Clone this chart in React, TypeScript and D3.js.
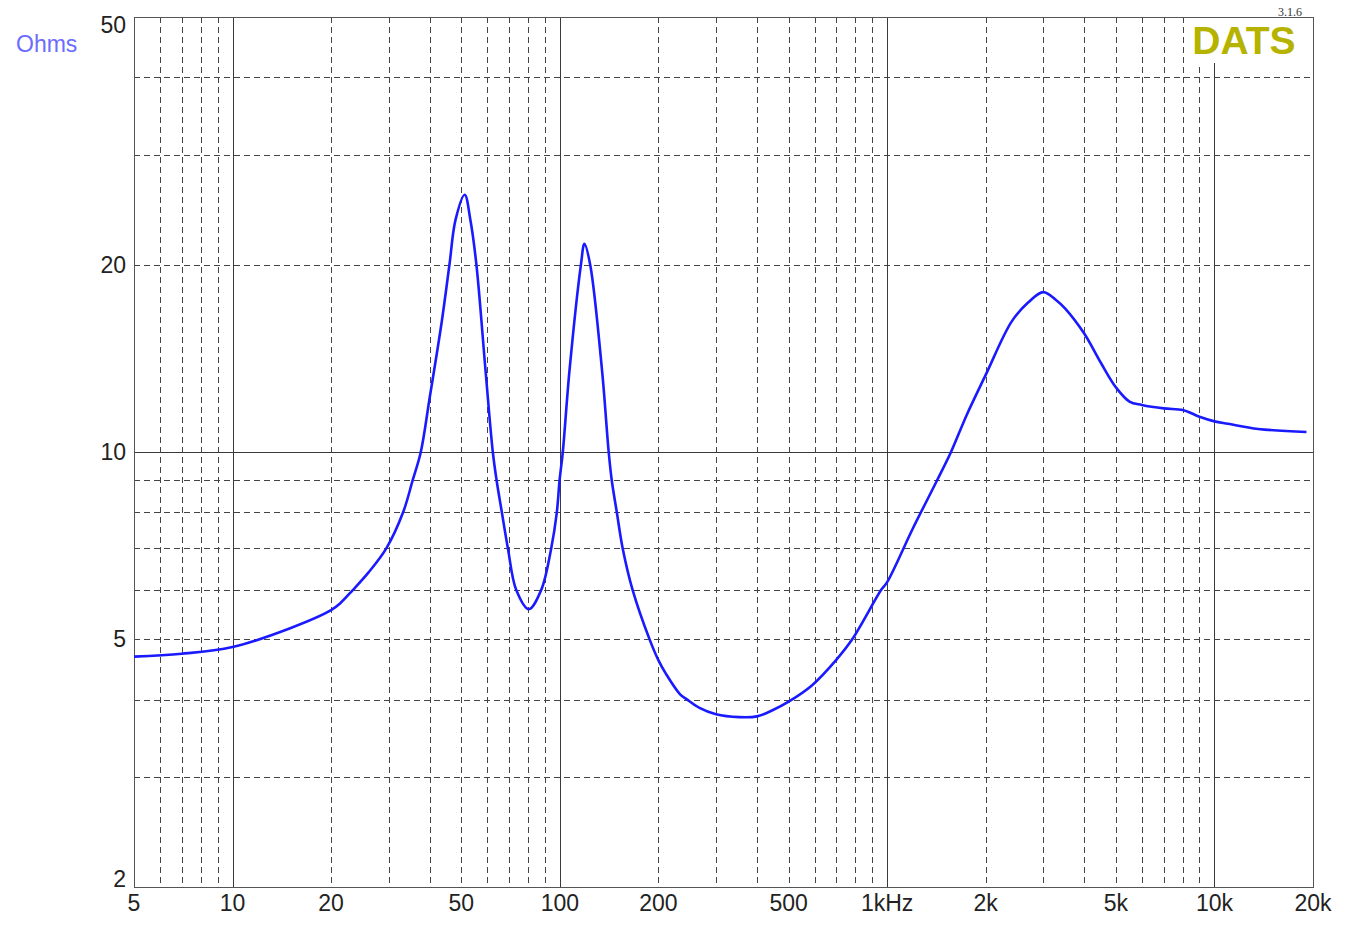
import React, { useRef, useEffect } from 'react';
import * as d3 from 'd3';

// impedance curve (Hz, Ohms)
const freqs = [
  5, 7, 10, 15, 20, 21.3, 23.3, 26, 29.5, 33.2, 35.5, 37.6, 40, 43.5, 46, 48, 51.2, 53.3,
  55.6, 59.3, 62.4, 64.1, 66.5, 69.4, 73.6, 80.4, 87.7, 94.1, 97.9, 99.8, 102.1, 107, 116, 118.9,
  123.8, 134.6, 141, 144.1, 149.3, 155.6, 166.9, 188, 200, 211, 233, 245, 267, 300, 353, 400,
  448, 500, 590, 698, 782, 958, 1000, 1200, 1420, 1567, 1750, 2000, 2400, 2700, 3000, 3300,
  3500, 4000, 4500, 5000, 5500, 6000, 7000, 8000, 8500, 9000, 10000, 11000, 13600, 19100,
];
const ohms = [
  4.69, 4.74, 4.86, 5.21, 5.57, 5.71, 6.0, 6.4, 7.0, 8, 9, 10, 12.2, 16.1, 20, 23.6, 25.9, 23.6,
  20, 13.5, 10, 9, 8, 7, 6, 5.59, 6, 7, 8, 9, 10, 13.5, 20, 21.6,
  20, 13.5, 10, 9, 8, 7, 6, 5, 4.63, 4.4, 4.08, 4.0, 3.88, 3.79, 3.75, 3.76,
  3.85, 3.97, 4.22, 4.63, 5.0, 6.0, 6.18, 7.55, 9, 10, 11.47, 13.3, 16.2, 17.4, 18.07, 17.5,
  17.0, 15.5, 13.9, 12.7, 12.05, 11.9, 11.75, 11.68, 11.54, 11.39, 11.2, 11.1, 10.89, 10.77,
];

const xTickValues = [5, 10, 20, 50, 100, 200, 500, 1000, 2000, 5000, 10000, 20000];
const xTickLabels = ['5', '10', '20', '50', '100', '200', '500', '1kHz', '2k', '5k', '10k', '20k'];
const yTickValues = [2, 5, 10, 20, 50];
const yTickLabels = ['2', '5', '10', '20', '50'];

const majorFreqs = [10, 100, 1000, 10000];
const minorFreqs = [
  6, 7, 8, 9, 20, 30, 40, 50, 60, 70, 80, 90, 200, 300, 400, 500, 600, 700, 800, 900,
  2000, 3000, 4000, 5000, 6000, 7000, 8000, 9000,
];
const majorOhms = [10];
const minorOhms = [3, 4, 5, 6, 7, 8, 9, 20, 30, 40];

const FONT = '"Liberation Sans", Arial, sans-serif';

const App = () => {
  const svgRef = useRef(null);

  useEffect(() => {
    const svg = d3.select(svgRef.current);
    svg.selectAll('*').remove();

    const left = 134, right = 1313, top = 17, bottom = 887;
    const x = d3.scaleLog().domain([5, 20000]).range([left, right]);
    const y = d3.scaleLog().domain([2, 50]).range([bottom, top]);
    const px = (v) => Math.round(v) + 0.5;

    svg.append('rect').attr('width', 1348).attr('height', 935).attr('fill', '#fff');

    const grid = svg.append('g').attr('shape-rendering', 'crispEdges');

    // minor grid (dashed)
    minorFreqs.forEach((f) => {
      grid.append('line')
        .attr('x1', px(x(f))).attr('x2', px(x(f)))
        .attr('y1', top).attr('y2', bottom)
        .attr('stroke', '#444').attr('stroke-dasharray', '6,4');
    });
    minorOhms.forEach((o) => {
      grid.append('line')
        .attr('x1', left).attr('x2', right)
        .attr('y1', px(y(o))).attr('y2', px(y(o)))
        .attr('stroke', '#444').attr('stroke-dasharray', '6,4');
    });

    // major grid (solid)
    majorFreqs.forEach((f) => {
      grid.append('line')
        .attr('x1', px(x(f))).attr('x2', px(x(f)))
        .attr('y1', top).attr('y2', bottom)
        .attr('stroke', '#3a3a3a');
    });
    majorOhms.forEach((o) => {
      grid.append('line')
        .attr('x1', left).attr('x2', right)
        .attr('y1', px(y(o))).attr('y2', px(y(o)))
        .attr('stroke', '#3a3a3a');
    });

    // frame
    grid.append('rect')
      .attr('x', px(left)).attr('y', px(top))
      .attr('width', right - left).attr('height', bottom - top)
      .attr('fill', 'none').attr('stroke', '#555');

    // logo box hides the grid under it
    svg.append('rect')
      .attr('x', 1189).attr('y', top + 1)
      .attr('width', 123).attr('height', 45)
      .attr('fill', '#fff');
    svg.append('text')
      .attr('x', 1244).attr('y', 54)
      .attr('text-anchor', 'middle')
      .style('font-family', FONT).style('font-size', '39px').style('font-weight', 'bold')
      .attr('fill', '#b5b300')
      .text('DATS');
    svg.append('text')
      .attr('x', 1290).attr('y', 16)
      .attr('text-anchor', 'middle')
      .style('font-family', '"Liberation Serif", "DejaVu Serif", serif').style('font-size', '12px')
      .attr('fill', '#333')
      .text('3.1.6');

    // curve
    const pts = freqs.map((f, i) => [x(f), y(ohms[i])]);
    svg.append('path')
      .attr('d', d3.line().curve(d3.curveCatmullRom.alpha(0.5))(pts))
      .attr('fill', 'none')
      .attr('stroke', '#1a1aff')
      .attr('stroke-width', 2.6)
      .attr('stroke-linejoin', 'round');

    // axis labels
    xTickValues.forEach((f, i) => {
      svg.append('text')
        .attr('x', x(f)).attr('y', 911)
        .attr('text-anchor', 'middle')
        .style('font-family', FONT).style('font-size', '23px')
        .attr('fill', '#222')
        .text(xTickLabels[i]);
    });
    yTickValues.forEach((o, i) => {
      svg.append('text')
        .attr('x', 126).attr('y', Math.min(Math.max(y(o) + 8, 33), 887))
        .attr('text-anchor', 'end')
        .style('font-family', FONT).style('font-size', '23px')
        .attr('fill', '#222')
        .text(yTickLabels[i]);
    });

    svg.append('text')
      .attr('x', 16).attr('y', 52)
      .style('font-family', FONT).style('font-size', '23px')
      .attr('fill', '#6b6bff')
      .text('Ohms');
  }, []);

  return (
    <svg
      ref={svgRef}
      width={1348}
      height={935}
      style={{ position: 'absolute', left: 0, top: 0, display: 'block' }}
    />
  );
};

export default App;
